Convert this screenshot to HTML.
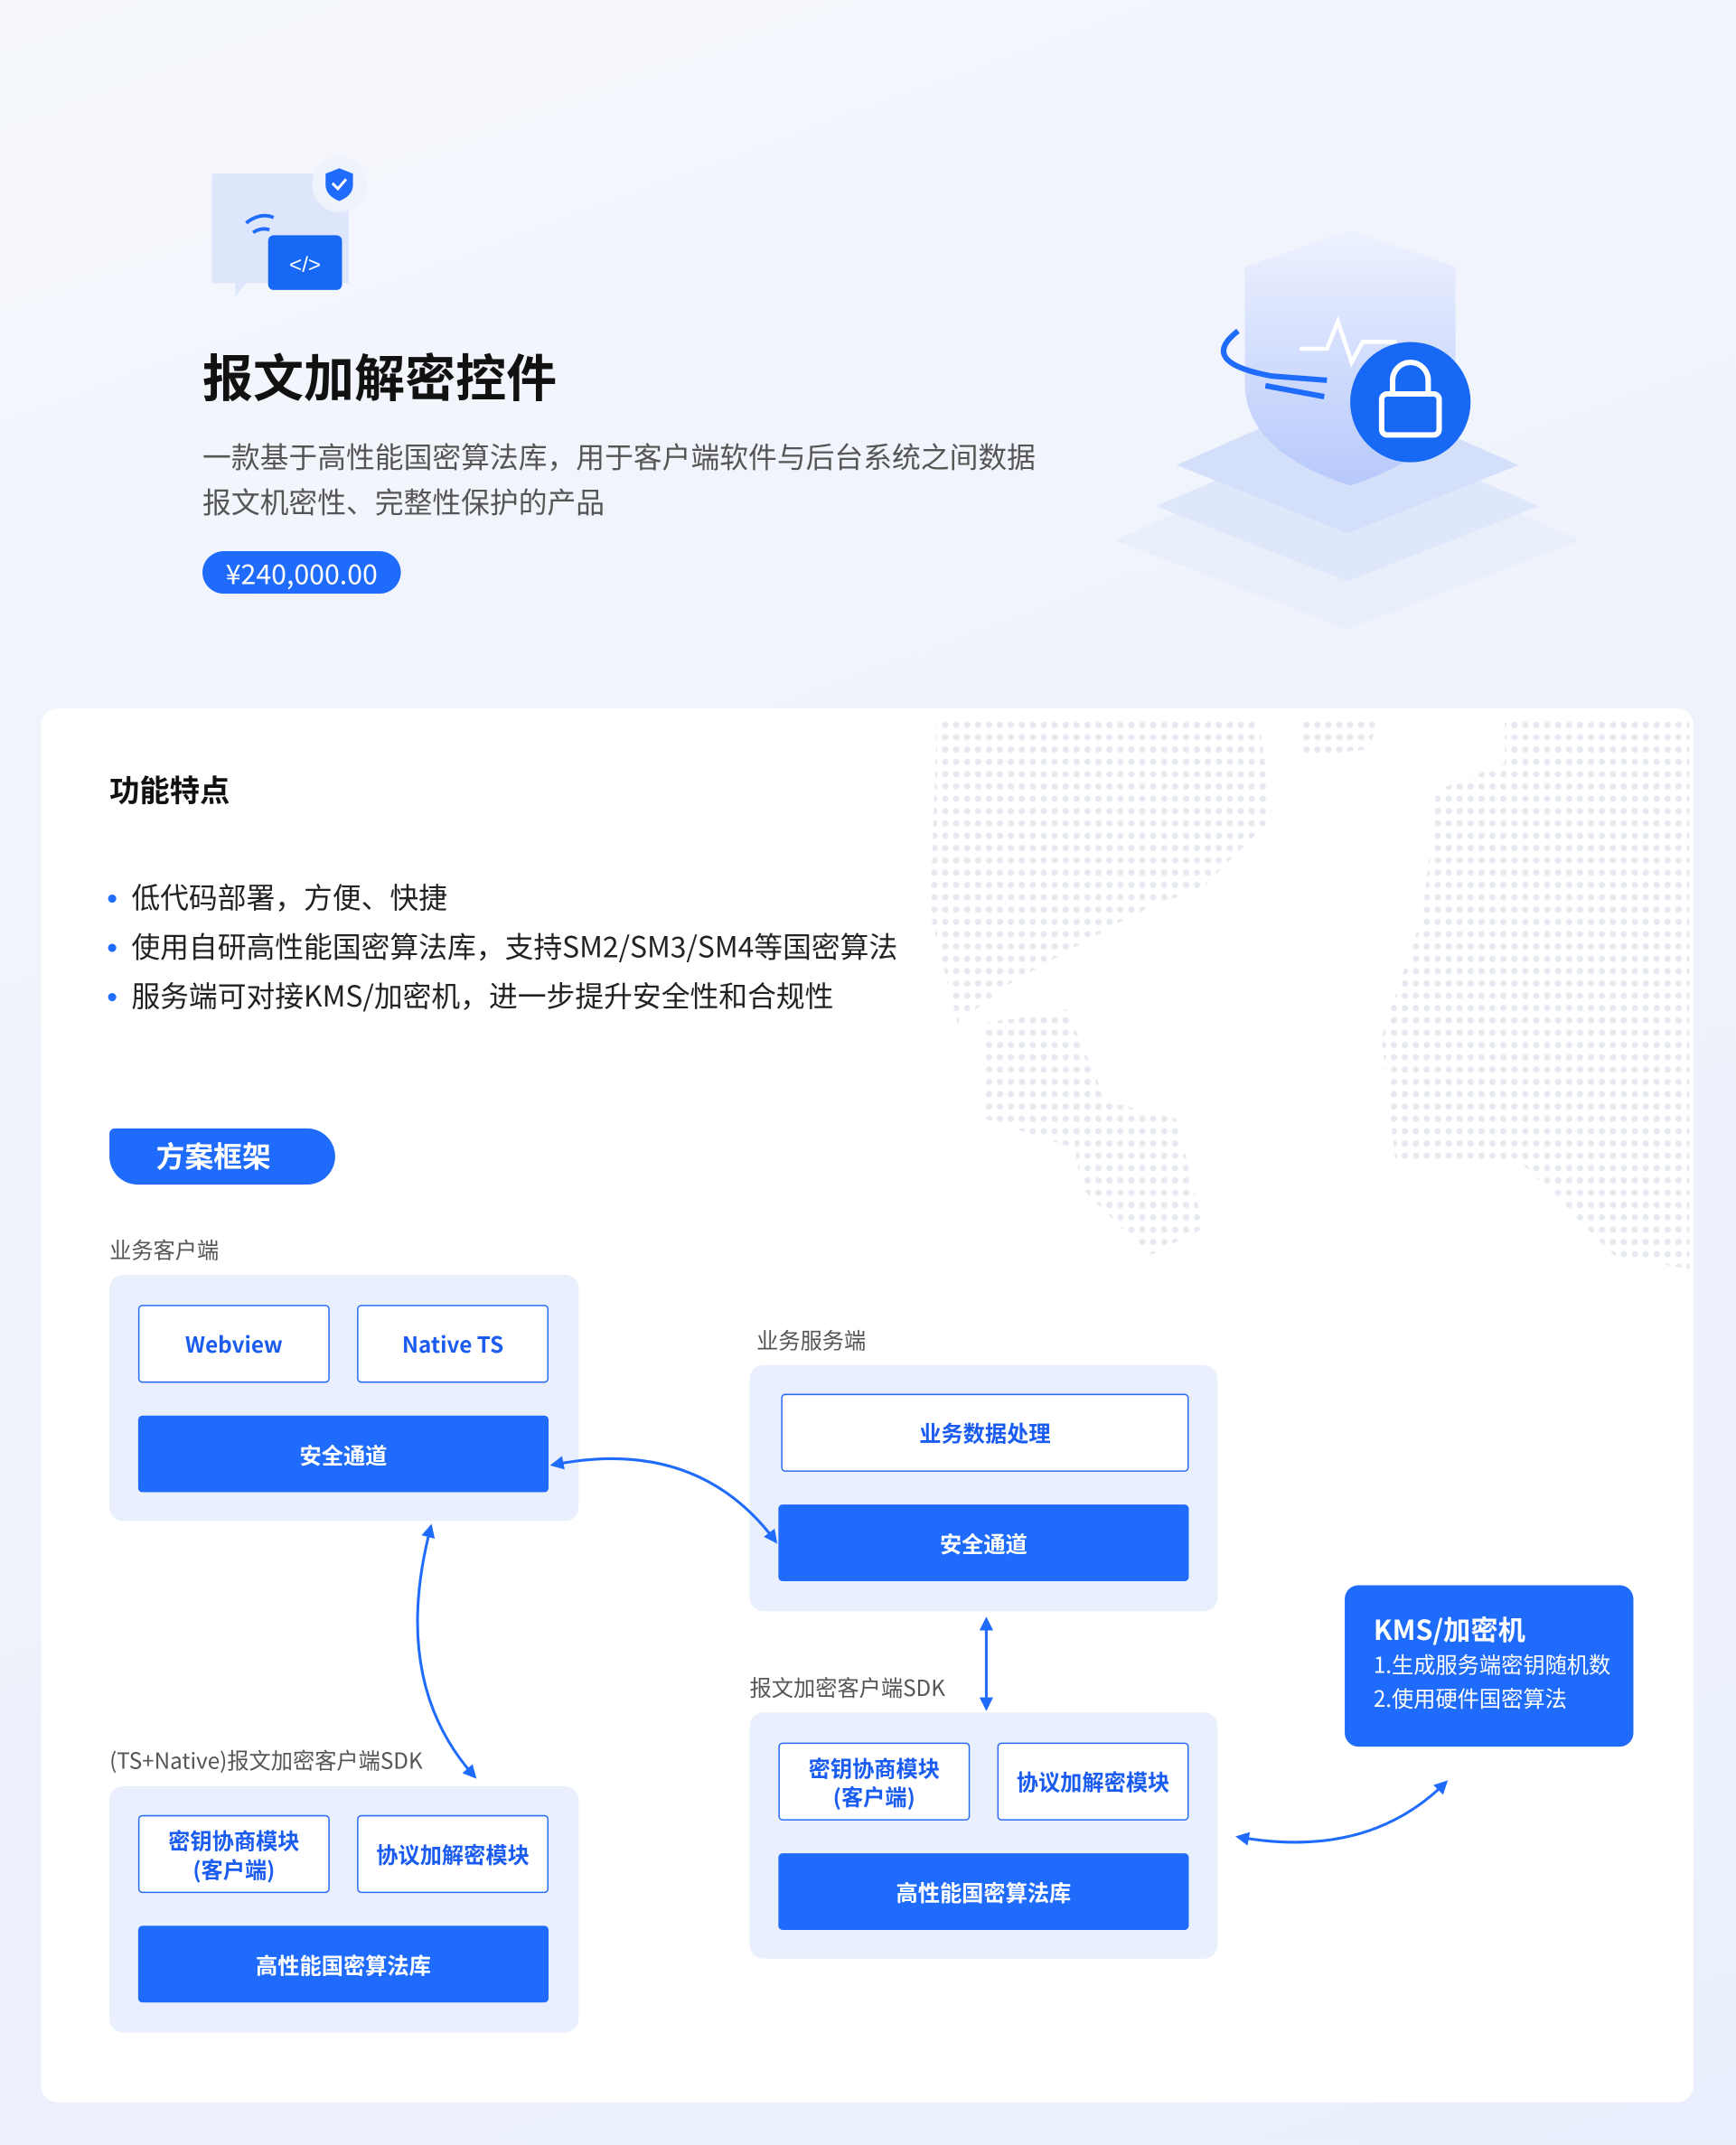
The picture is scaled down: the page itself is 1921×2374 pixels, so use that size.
<!DOCTYPE html>
<html><head><meta charset="utf-8"><style>
html,body{margin:0;padding:0;width:1921px;height:2373px;overflow:hidden;background:#eef2fb;}
#w{position:absolute;left:0;top:0;width:1269px;height:1568px;transform:scale(1.51379);transform-origin:0 0;
background:linear-gradient(160deg,#f5f7fc 0%,#eef2fb 50%,#e9effc 100%);font-family:"Noto Sans CJK SC","Liberation Sans",sans-serif;}
.a{position:absolute;}
.card{left:30px;top:518px;width:1208px;height:1019px;background:#fff;border-radius:12px;}
.g{background:#e9effc;border-radius:10px;}
.wb{background:#fff;border:1px solid #2a6df5;border-radius:3px;color:#1b5cf0;font-weight:bold;font-size:16px;display:flex;align-items:center;justify-content:center;text-align:center;line-height:21px;box-sizing:border-box;}
.bb{background:#1f6bfb;border-radius:3px;color:#fff;font-weight:bold;font-size:16px;display:flex;align-items:center;justify-content:center;box-sizing:border-box;}
.lb{font-size:16px;color:#555;line-height:20px;}
.bl{font-size:21px;color:#222;line-height:28px;}
.dot{width:6px;height:6px;border-radius:3px;background:#1f6bfb;}
</style></head><body><div id="w">
<svg class="a" style="left:810px;top:160px" width="360" height="310" viewBox="0 0 360 310">
<defs><linearGradient id="sg" x1="0" y1="0" x2="0" y2="1"><stop offset="0" stop-color="#eef2ff"/><stop offset="1" stop-color="#b7c9fb"/></linearGradient></defs>
<polygon points="5,235 175,160 345,235 175,300" fill="#e9eefb"/>
<polygon points="35,210 175,150 315,210 175,265" fill="#dfe7fb"/>
<polygon points="50,180 175,125 300,180 175,230" fill="#d4dffa"/>
<path d="M100,35 L177,8 L254,35 L254,120 Q254,170 177,195 Q100,170 100,120 Z" fill="url(#sg)"/>
<path d="M140,95 h20 l8,-20 l10,30 l8,-15 h25" stroke="#fff" stroke-width="3" fill="none"/>
<path d="M95,82 Q65,105 120,115 L160,118" stroke="#1f6bfb" stroke-width="4" fill="none"/>
<path d="M115,122 L158,130" stroke="#1f6bfb" stroke-width="4"/>
<circle cx="221" cy="134" r="44" fill="#1668f5"/>
<rect x="200" y="128" width="42" height="30" rx="4" fill="none" stroke="#fff" stroke-width="4"/>
<path d="M208,128 v-10 a13,13 0 0 1 26,0 v10" fill="none" stroke="#fff" stroke-width="4"/>
</svg>
<svg class="a" style="left:150px;top:115px" width="125" height="105">
<path d="M5,12 h100 v80 H30 l-8,10 v-10 H5 Z" fill="#dde6fb"/>
<circle cx="98" cy="20" r="20" fill="#eef2fb"/>
<path d="M88,12 l10,-4 l10,4 v8 q0,8 -10,12 q-10,-4 -10,-12z" fill="#1f6bfb"/>
<path d="M93,19 l4,4 l6,-7" stroke="#fff" stroke-width="2" fill="none"/>
<path d="M30,48 q10,-8 20,-4 M35,55 q6,-4 12,-2" stroke="#1f6bfb" stroke-width="2.5" fill="none"/>
<rect x="46" y="57" width="54" height="40" rx="4" fill="#1668f5"/>
<text x="73" y="84" fill="#fff" font-size="16" text-anchor="middle" font-family="Liberation Sans">&lt;/&gt;</text>
</svg>
<div class="a" style="left:148px;top:248px;font-size:37px;font-weight:bold;color:#111;line-height:52px;">报文加解密控件</div>
<div class="a" style="left:148px;top:318px;font-size:21px;color:#555;line-height:33px;width:700px;">一款基于高性能国密算法库，用于客户端软件与后台系统之间数据<br>报文机密性、完整性保护的产品</div>
<div class="a" style="left:148px;top:403px;width:145px;height:31px;border-radius:16px;background:#1f6bfb;color:#fff;font-size:20px;line-height:31px;text-align:center;">¥240,000.00</div>
<div class="a card"></div>
<svg class="a" style="left:680px;top:518px" width="558" height="410">
<defs><pattern id="dp" width="8" height="9" patternUnits="userSpaceOnUse"><circle cx="3" cy="3" r="2.3" fill="#e6e9f0"/></pattern></defs>
<g fill="url(#dp)">
<path d="M5,5 L240,5 L250,80 L200,130 L150,150 L60,200 L20,230 L0,150 Z"/>
<path d="M40,230 L100,220 L130,290 L100,320 L40,300 Z"/>
<path d="M100,280 L180,300 L200,380 L160,400 L110,350 Z"/>
<path d="M270,5 L330,5 L320,30 L270,35 Z"/>
<path d="M370,60 L420,40 L420,5 L555,5 L555,410 L500,400 L430,330 L340,330 L330,240 L360,150 Z"/>
</g></svg>
<div class="a" style="left:80px;top:561px;font-size:22px;font-weight:bold;color:#111;line-height:32px;">功能特点</div>
<div class="a dot" style="left:79px;top:654px"></div><div class="a bl" style="left:96px;top:642px">低代码部署，方便、快捷</div>
<div class="a dot" style="left:79px;top:690px"></div><div class="a bl" style="left:96px;top:678px">使用自研高性能国密算法库，支持SM2/SM3/SM4等国密算法</div>
<div class="a dot" style="left:79px;top:726px"></div><div class="a bl" style="left:96px;top:714px">服务端可对接KMS/加密机，进一步提升安全性和合规性</div>
<div class="a" style="left:80px;top:825px;width:165px;height:41px;background:#1f6bfb;border-radius:4px 21px 21px 21px;color:#fff;font-size:21px;font-weight:bold;line-height:41px;padding-left:34px;box-sizing:border-box;">方案框架</div>
<div class="a lb" style="left:80px;top:903px">业务客户端</div>
<div class="a g" style="left:80px;top:932px;width:343px;height:180px"></div>
<div class="a wb" style="left:101px;top:954px;width:140px;height:57px">Webview</div>
<div class="a wb" style="left:261px;top:954px;width:140px;height:57px">Native TS</div>
<div class="a bb" style="left:101px;top:1035px;width:300px;height:56px">安全通道</div>
<div class="a lb" style="left:553px;top:969px">业务服务端</div>
<div class="a g" style="left:548px;top:998px;width:342px;height:180px"></div>
<div class="a wb" style="left:571px;top:1019px;width:298px;height:57px">业务数据处理</div>
<div class="a bb" style="left:569px;top:1100px;width:300px;height:56px">安全通道</div>
<div class="a lb" style="left:548px;top:1223px">报文加密客户端SDK</div>
<div class="a g" style="left:548px;top:1252px;width:342px;height:180px"></div>
<div class="a wb" style="left:569px;top:1274px;width:140px;height:57px">密钥协商模块<br>(客户端)</div>
<div class="a wb" style="left:729px;top:1274px;width:140px;height:57px">协议加解密模块</div>
<div class="a bb" style="left:569px;top:1355px;width:300px;height:56px">高性能国密算法库</div>
<div class="a lb" style="left:80px;top:1276px">(TS+Native)报文加密客户端SDK</div>
<div class="a g" style="left:80px;top:1306px;width:343px;height:180px"></div>
<div class="a wb" style="left:101px;top:1327px;width:140px;height:57px">密钥协商模块<br>(客户端)</div>
<div class="a wb" style="left:261px;top:1327px;width:140px;height:57px">协议加解密模块</div>
<div class="a bb" style="left:101px;top:1408px;width:300px;height:56px">高性能国密算法库</div>
<div class="a" style="left:983px;top:1159px;width:211px;height:118px;background:#1f6bfb;border-radius:10px;color:#fff;box-sizing:border-box;padding:19px 0 0 21px;">
<div style="font-size:20px;font-weight:bold;line-height:26px;">KMS/加密机</div>
<div style="font-size:16px;line-height:25px;margin-top:0px;">1.生成服务端密钥随机数<br>2.使用硬件国密算法</div></div>
<svg class="a" style="left:0;top:0" width="1269" height="1568">
<defs><marker id="ar" markerWidth="10" markerHeight="10" refX="8" refY="5" orient="auto-start-reverse" markerUnits="userSpaceOnUse"><path d="M0,0 L10,5 L0,10 Z" fill="#1f6bfb"/></marker></defs>
<g stroke="#1f6bfb" stroke-width="2" fill="none" marker-start="url(#ar)" marker-end="url(#ar)">
<path d="M404,1071 Q510,1050 567,1127"/>
<path d="M315,1116 Q285,1230 347,1299"/>
<path d="M721,1184 L721,1249"/>
<path d="M905,1343 Q1000,1360 1057,1303"/>
</g></svg>
</div></body></html>
